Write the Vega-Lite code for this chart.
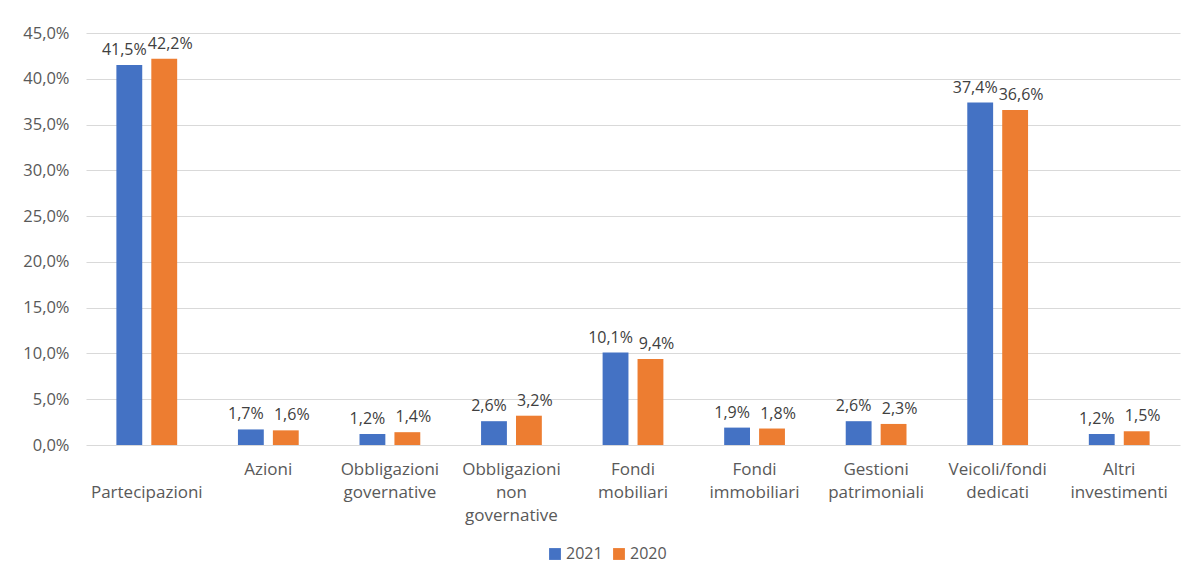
{
  "$schema": "https://vega.github.io/schema/vega-lite/v6.json",
  "width": 1094,
  "height": 412,
  "autosize": {"type": "none"},
  "padding": {"left": 86, "top": 33, "right": 12, "bottom": 133},
  "background": "white",
  "config": {
    "locale": {"number": {"decimal": ",", "thousands": ".", "grouping": [3], "currency": ["€", ""]}},
    "view": {"stroke": null},
    "font": "Open Sans"
  },
  "data": {
    "values": [
      {"categoria": "Partecipazioni", "anno": "2021", "valore": 0.415},
      {"categoria": "Partecipazioni", "anno": "2020", "valore": 0.422},
      {"categoria": "Azioni", "anno": "2021", "valore": 0.017},
      {"categoria": "Azioni", "anno": "2020", "valore": 0.016},
      {"categoria": "Obbligazioni governative", "anno": "2021", "valore": 0.012},
      {"categoria": "Obbligazioni governative", "anno": "2020", "valore": 0.014},
      {"categoria": "Obbligazioni non governative", "anno": "2021", "valore": 0.026},
      {"categoria": "Obbligazioni non governative", "anno": "2020", "valore": 0.032},
      {"categoria": "Fondi mobiliari", "anno": "2021", "valore": 0.101},
      {"categoria": "Fondi mobiliari", "anno": "2020", "valore": 0.094},
      {"categoria": "Fondi immobiliari", "anno": "2021", "valore": 0.019},
      {"categoria": "Fondi immobiliari", "anno": "2020", "valore": 0.018},
      {"categoria": "Gestioni patrimoniali", "anno": "2021", "valore": 0.026},
      {"categoria": "Gestioni patrimoniali", "anno": "2020", "valore": 0.023},
      {"categoria": "Veicoli/fondi dedicati", "anno": "2021", "valore": 0.374},
      {"categoria": "Veicoli/fondi dedicati", "anno": "2020", "valore": 0.366},
      {"categoria": "Altri investimenti", "anno": "2021", "valore": 0.012},
      {"categoria": "Altri investimenti", "anno": "2020", "valore": 0.015}
    ]
  },
  "encoding": {
    "x": {
      "field": "categoria",
      "type": "nominal",
      "sort": null,
      "scale": {"paddingInner": 0.5, "paddingOuter": 0.25},
      "axis": {
        "title": null,
        "labelAngle": 0,
        "domain": false,
        "ticks": false,
        "labelPadding": 16,
        "labelFontSize": 17,
        "labelColor": "#595959",
        "labelLineHeight": 23,
        "labelBaseline": "top",
        "labelLimit": 200,
        "labelExpr": "datum.label == 'Partecipazioni' ? ['', 'Partecipazioni'] : split(datum.label, ' ')"
      }
    },
    "xOffset": {"field": "anno", "type": "nominal", "sort": ["2021", "2020"], "scale": {"paddingInner": 0.26}},
    "y": {
      "field": "valore",
      "type": "quantitative",
      "scale": {"domain": [0, 0.45], "nice": false},
      "axis": {
        "title": null,
        "format": ".1%",
        "values": [0, 0.05, 0.1, 0.15, 0.2, 0.25, 0.3, 0.35, 0.4, 0.45],
        "labelOverlap": false,
        "domain": false,
        "ticks": false,
        "labelPadding": 17,
        "labelFontSize": 16.5,
        "labelColor": "#595959",
        "gridColor": "#d9d9d9",
        "gridWidth": 1.2
      }
    }
  },
  "layer": [
    {
      "mark": {"type": "bar"},
      "encoding": {
        "color": {
          "field": "anno",
          "type": "nominal",
          "scale": {"domain": ["2021", "2020"], "range": ["#4472C4", "#ED7D31"]},
          "legend": {
            "title": null,
            "orient": "none",
            "direction": "horizontal",
            "legendX": 461,
            "legendY": 513,
            "symbolType": "square",
            "symbolSize": 140,
            "symbolStrokeWidth": 0,
            "labelFontSize": 16,
            "labelColor": "#595959",
            "columnPadding": 8,
            "labelOffset": 3
          }
        }
      }
    },
    {
      "transform": [{"filter": "datum.anno == '2021'"}],
      "mark": {"type": "text", "baseline": "bottom", "dy": -7, "dx": -5, "fontSize": 16, "color": "#404040"},
      "encoding": {
        "text": {"field": "valore", "type": "quantitative", "format": ".1%"}
      }
    },
    {
      "transform": [{"filter": "datum.anno == '2020'"}],
      "mark": {"type": "text", "baseline": "bottom", "dy": -7, "dx": 6, "fontSize": 16, "color": "#404040"},
      "encoding": {
        "text": {"field": "valore", "type": "quantitative", "format": ".1%"}
      }
    }
  ]
}
